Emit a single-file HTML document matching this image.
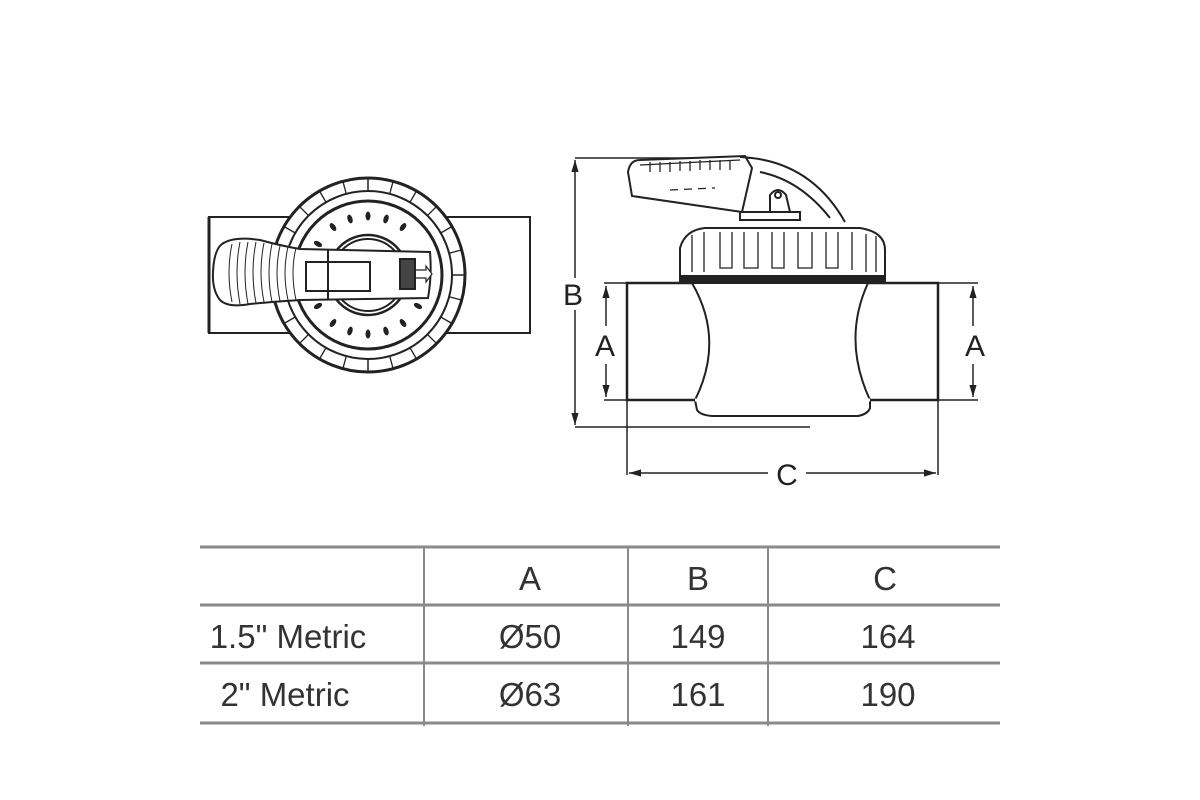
<!DOCTYPE html>
<html><head><style>
html,body{margin:0;padding:0;background:#fff;}
svg{display:block;}
text{font-family:"Liberation Sans",Arial,sans-serif;fill:#333;}
</style></head><body>
<svg width="1200" height="800" viewBox="0 0 1200 800" xmlns="http://www.w3.org/2000/svg">
<defs>
<marker id="ar" viewBox="0 0 10 10" refX="10" refY="5" markerWidth="8" markerHeight="8" orient="auto-start-reverse"><path d="M0,2 L10,5 L0,8 z" fill="#222"/></marker>
</defs>
<!-- LEFT TOP VIEW -->
<g stroke="#222" fill="none" stroke-width="2">
<rect x="209" y="217" width="321" height="116" fill="#fff"/>
<line x1="209" y1="217" x2="209" y2="333" stroke-width="3"/>
<circle cx="368" cy="275" r="97" fill="#fff" stroke-width="3"/>
<circle cx="368" cy="275" r="84"/>
<circle cx="368" cy="275" r="74" stroke-width="3"/>
<circle cx="368" cy="275" r="40" stroke-width="2.5"/>
<circle cx="368" cy="275" r="36"/>
</g>
<g stroke="#222" stroke-width="1.5" fill="none">
<path d="M368,178 L368,191 M368,359 L368,372 M271,275 L284,275 M452,275 L465,275"/>
</g>
<g fill="#222">
<ellipse cx="368" cy="216" rx="2.5" ry="4.5"/>
<ellipse cx="368" cy="334" rx="2.5" ry="4.5"/>
<ellipse cx="386" cy="219" rx="2.5" ry="4.5" transform="rotate(18 386 219)"/>
<ellipse cx="350" cy="219" rx="2.5" ry="4.5" transform="rotate(-18 350 219)"/>
<ellipse cx="403" cy="227" rx="2.5" ry="4.5" transform="rotate(36 403 227)"/>
<ellipse cx="333" cy="227" rx="2.5" ry="4.5" transform="rotate(-36 333 227)"/>
<ellipse cx="386" cy="331" rx="2.5" ry="4.5" transform="rotate(-18 386 331)"/>
<ellipse cx="350" cy="331" rx="2.5" ry="4.5" transform="rotate(18 350 331)"/>
<ellipse cx="403" cy="323" rx="2.5" ry="4.5" transform="rotate(-36 403 323)"/>
<ellipse cx="333" cy="323" rx="2.5" ry="4.5" transform="rotate(36 333 323)"/>
<ellipse cx="418" cy="306" rx="2.5" ry="4.5" transform="rotate(-60 418 306)"/>
<ellipse cx="318" cy="306" rx="2.5" ry="4.5" transform="rotate(60 318 306)"/>
<ellipse cx="318" cy="244" rx="2.5" ry="4.5" transform="rotate(-60 318 244)"/>
</g>
<g stroke="#222" stroke-width="1.3">
<line x1="368" y1="178" x2="368" y2="191" transform="rotate(15 368 275)"/>
<line x1="368" y1="178" x2="368" y2="191" transform="rotate(30 368 275)"/>
<line x1="368" y1="178" x2="368" y2="191" transform="rotate(45 368 275)"/>
<line x1="368" y1="178" x2="368" y2="191" transform="rotate(60 368 275)"/>
<line x1="368" y1="178" x2="368" y2="191" transform="rotate(75 368 275)"/>
<line x1="368" y1="178" x2="368" y2="191" transform="rotate(105 368 275)"/>
<line x1="368" y1="178" x2="368" y2="191" transform="rotate(120 368 275)"/>
<line x1="368" y1="178" x2="368" y2="191" transform="rotate(135 368 275)"/>
<line x1="368" y1="178" x2="368" y2="191" transform="rotate(150 368 275)"/>
<line x1="368" y1="178" x2="368" y2="191" transform="rotate(165 368 275)"/>
<line x1="368" y1="178" x2="368" y2="191" transform="rotate(195 368 275)"/>
<line x1="368" y1="178" x2="368" y2="191" transform="rotate(210 368 275)"/>
<line x1="368" y1="178" x2="368" y2="191" transform="rotate(225 368 275)"/>
<line x1="368" y1="178" x2="368" y2="191" transform="rotate(240 368 275)"/>
<line x1="368" y1="178" x2="368" y2="191" transform="rotate(255 368 275)"/>
<line x1="368" y1="178" x2="368" y2="191" transform="rotate(285 368 275)"/>
<line x1="368" y1="178" x2="368" y2="191" transform="rotate(300 368 275)"/>
<line x1="368" y1="178" x2="368" y2="191" transform="rotate(315 368 275)"/>
<line x1="368" y1="178" x2="368" y2="191" transform="rotate(330 368 275)"/>
<line x1="368" y1="178" x2="368" y2="191" transform="rotate(345 368 275)"/>
</g>
<!-- handle -->
<g stroke="#222" stroke-width="2" fill="#fff">
<path d="M300,249 L430,252 Q432,276 428,298 L300,300 Q270,302 250,304 Q228,308 220,300 Q212,290 213,272 Q214,250 222,244 Q234,236 260,240 Q282,246 300,249 Z"/>
<rect x="306" y="262" width="64" height="29"/>
<line x1="328" y1="250" x2="328" y2="299"/>
<rect x="400" y="259" width="15" height="30" fill="#444"/>
<path d="M416,270 L426,270 L426,266 L432,274 L426,282 L426,278 L416,278" fill="#fff" stroke-width="1.2"/>
</g>
<g stroke="#222" stroke-width="1">
<path d="M232,244 Q226,272 232,302 M240,242 Q234,272 240,304 M248,242 Q242,272 248,304 M256,242 Q250,272 256,303 M264,243 Q258,272 264,302 M272,244 Q266,272 272,302 M280,246 Q274,272 280,301 M288,247 Q282,272 288,300 M296,248 Q290,272 296,300" fill="none"/>
</g>
<!-- RIGHT SIDE VIEW -->
<g stroke="#222" fill="none" stroke-width="2">
<line x1="575" y1="158" x2="752" y2="158" stroke-width="1.5"/>
<line x1="575" y1="427" x2="810" y2="427" stroke-width="1.5"/>
<line x1="575" y1="160" x2="575" y2="278" stroke-width="1.5" marker-start="url(#ar)"/>
<line x1="575" y1="310" x2="575" y2="425" stroke-width="1.5" marker-end="url(#ar)"/>
<rect x="627" y="283" width="311" height="117" fill="#fff" stroke-width="2.5"/>
<path d="M692,283 Q725,340 695,400 L697,410 Q700,415 712,416 L858,416 Q868,414 870,408 L870,400 Q842,340 868,283" fill="#fff"/>
<line x1="695" y1="400" x2="870" y2="400" stroke="#fff" stroke-width="3"/>
<path d="M680,283 L680,248 Q685,230 705,228 L860,228 Q885,232 885,250 L885,283 Z" fill="#fff"/>
<rect x="680" y="276" width="205" height="7" fill="#222"/>
<path d="M628,172 Q630,160 640,160 L745,156 L752,168 L742,212 L632,196 Z" fill="#fff"/>
<path d="M740,157 Q810,160 845,222 M760,172 Q800,180 830,218" />
<path d="M742,212 L770,212 L770,195 Q778,185 786,195 L790,212" fill="#fff"/>
<circle cx="778" cy="195" r="3"/>
<rect x="740" y="212" width="60" height="8" fill="#fff"/>
<line x1="627" y1="400" x2="627" y2="475" stroke-width="1.5"/>
<line x1="938" y1="400" x2="938" y2="475" stroke-width="1.5"/>
<line x1="604" y1="283" x2="627" y2="283" stroke-width="1.5"/>
<line x1="604" y1="400" x2="627" y2="400" stroke-width="1.5"/>
<line x1="938" y1="283" x2="978" y2="283" stroke-width="1.5"/>
<line x1="938" y1="400" x2="978" y2="400" stroke-width="1.5"/>
<line x1="606" y1="286" x2="606" y2="326" stroke-width="1.5" marker-start="url(#ar)"/>
<line x1="606" y1="364" x2="606" y2="397" stroke-width="1.5" marker-end="url(#ar)"/>
<line x1="973" y1="286" x2="973" y2="326" stroke-width="1.5" marker-start="url(#ar)"/>
<line x1="973" y1="364" x2="973" y2="397" stroke-width="1.5" marker-end="url(#ar)"/>
<line x1="629" y1="473" x2="768" y2="473" stroke-width="1.5" marker-start="url(#ar)"/>
<line x1="806" y1="473" x2="936" y2="473" stroke-width="1.5" marker-end="url(#ar)"/>
</g>
<g stroke="#222" stroke-width="1.3" fill="none">
<path d="M692,235 L692,272 M704,232 L704,272 M720,232 L720,268 L732,268 L732,232 M744,232 L744,268 L758,268 L758,232 M772,232 L772,268 L784,268 L784,232 M798,232 L798,268 L812,268 L812,232 M826,232 L826,268 L838,268 L838,232 M852,232 L852,270 M866,234 L866,272 M876,236 L876,272"/>
<path d="M640,165 L740,160 M650,162 L650,172 M660,162 L660,172 M670,162 L670,172 M680,161 L680,171 M690,161 L690,171 M700,160 L700,170 M710,160 L710,170 M720,160 L720,170 M730,160 L730,170"/>
<line x1="670" y1="190" x2="715" y2="188" stroke-dasharray="8 6"/>
</g>
<g font-size="30">
<text x="573" y="305" text-anchor="middle" style="fill:#222">B</text>
<text x="605" y="356" text-anchor="middle" style="fill:#222">A</text>
<text x="975" y="356" text-anchor="middle" style="fill:#222">A</text>
<text x="787" y="485" text-anchor="middle" style="fill:#222">C</text>
</g>
<!-- TABLE -->
<g stroke="#8a8a8a" stroke-width="3">
<line x1="200" y1="547" x2="1000" y2="547"/>
<line x1="200" y1="605" x2="1000" y2="605"/>
<line x1="200" y1="663" x2="1000" y2="663"/>
<line x1="200" y1="723" x2="1000" y2="723"/>
<line x1="424" y1="547" x2="424" y2="726" stroke-width="2"/>
<line x1="628" y1="547" x2="628" y2="726" stroke-width="2"/>
<line x1="768" y1="547" x2="768" y2="726" stroke-width="2"/>
</g>
<g font-size="33" text-anchor="middle">
<text x="530" y="590">A</text>
<text x="698" y="590">B</text>
<text x="885" y="590">C</text>
<text x="288" y="648">1.5" Metric</text>
<text x="530" y="648">Ø50</text>
<text x="698" y="648">149</text>
<text x="888" y="648">164</text>
<text x="285" y="706">2" Metric</text>
<text x="530" y="706">Ø63</text>
<text x="698" y="706">161</text>
<text x="888" y="706">190</text>
</g>
</svg>
</body></html>
